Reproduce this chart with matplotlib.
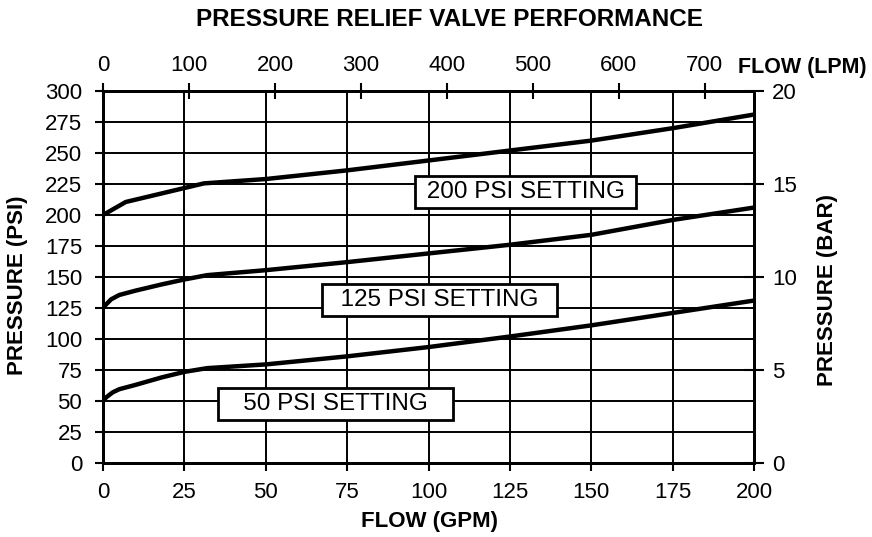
import matplotlib
matplotlib.use("Agg")
import matplotlib.pyplot as plt

plt.rcParams['font.family'] = ['Liberation Sans', 'DejaVu Sans']

# courbes (debit en GPM, pression en PSI)
gpm_200 = [0, 7, 31, 50, 75, 97, 125, 150, 175, 200]
psi_200 = [200, 210.5, 225.5, 229, 236, 243, 252, 260, 270, 281]

gpm_125 = [0, 1, 2.5, 5, 10, 18, 25, 32, 50, 75, 100, 125, 150, 175, 200]
psi_125 = [125, 128, 132, 135.5, 139, 144, 148, 151.5, 155.5, 162, 169, 176, 184, 196, 206]

gpm_50 = [0, 1, 3, 5, 10, 18, 25, 32, 50, 75, 100, 125, 150, 175, 200]
psi_50 = [50, 53, 57, 59.5, 63, 69, 73.5, 76.5, 79.5, 86, 93.5, 102, 111, 121, 131]

labels = ["200 PSI SETTING", "125 PSI SETTING", "50 PSI SETTING"]
label_pos = [(129.8, 218.3), (103.4, 131.5), (71.3, 47.8)]
label_spaces = [1, 2, 3]

gpm_ticks = list(range(0, 201, 25))
psi_ticks = list(range(0, 301, 25))
bar_ticks = [0, 5, 10, 15, 20]
lpm_ticks = [0, 100, 200, 300, 400, 500, 600, 700]

LPM_PAR_GPM = 3.78541

W, H = 872, 537
fig = plt.figure(figsize=(W / 100, H / 100), dpi=100)
ax = fig.add_axes([103 / W, 1 - 463 / H, 651 / W, 372 / H])

ax.set_xlim(0, 200)
ax.set_ylim(0, 300)
ax.set_xticks(gpm_ticks)
ax.set_yticks(psi_ticks)
ax.grid(True, color='black', lw=1.4)
ax.set_axisbelow(True)
for s in ax.spines.values():
    s.set_linewidth(2)
ax.tick_params(axis='x', direction='out', length=6, width=1.5, pad=8, labelsize=16)
ax.tick_params(axis='y', direction='out', length=6, width=1.5, pad=9, labelsize=16)

for x, y in [(gpm_200, psi_200), (gpm_125, psi_125), (gpm_50, psi_50)]:
    ax.plot(x, y, color='black', lw=3.2, solid_capstyle='butt', zorder=3)

for txt, (x, y), n in zip(labels, label_pos, label_spaces):
    pad = " " * n
    ax.text(x, y, pad + txt + pad, fontsize=17.5, ha='center', va='center', zorder=4,
            bbox=dict(boxstyle='square,pad=0.2', fc='white', ec='black', lw=2))

# axe de droite en BAR (echelle du document : 20 bar en haut)
ax2 = ax.twinx()
ax2.set_ylim(0, 20)
ax2.set_yticks(bar_ticks)
ax2.tick_params(axis='y', direction='inout', length=14, width=1.5, pad=6, labelsize=16)
for s in ax2.spines.values():
    s.set_linewidth(2)

# axe du haut en LPM
top = ax.secondary_xaxis('top', functions=(lambda g: g * LPM_PAR_GPM, lambda l: l / LPM_PAR_GPM))
top.set_xticks(lpm_ticks)
top.tick_params(direction='inout', length=12, width=1.5, pad=5, labelsize=16)
top.spines['top'].set_linewidth(2)

ax.text(0.975, 1.048, "FLOW (LPM)", transform=ax.transAxes, fontsize=15.5,
        fontweight='bold', ha='left', va='baseline')

fig.text(449 / W, 1 - 20 / H, "PRESSURE RELIEF VALVE PERFORMANCE", fontsize=17.5,
         fontweight='bold', ha='center', va='center')
fig.text(429 / W, 1 - 522 / H, "FLOW (GPM)", fontsize=16, fontweight='bold',
         ha='center', va='center')
fig.text(18 / W, 1 - 285 / H, "PRESSURE (PSI)", fontsize=16, fontweight='bold',
         rotation=90, ha='center', va='center')
fig.text(827 / W, 1 - 290 / H, "PRESSURE (BAR)", fontsize=16, fontweight='bold',
         rotation=90, ha='center', va='center')

fig.savefig("out.png", dpi=100, facecolor='white')
